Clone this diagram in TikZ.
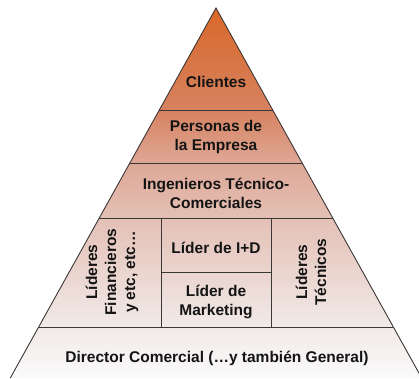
\documentclass[tikz,border=0pt]{standalone}
\usepackage{fontspec}
\setmainfont{Liberation Sans}
\definecolor{pyrB}{RGB}{250,250,250}
\definecolor{pyr1}{RGB}{241,234,232}
\definecolor{pyr2}{RGB}{228,192,182}
\definecolor{pyr25}{RGB}{222,168,150}
\definecolor{pyr3}{RGB}{214,130,96}
\definecolor{pyrT}{RGB}{217,104,40}
\definecolor{edge}{RGB}{60,55,55}
\pgfdeclareverticalshading{pyr}{100bp}{%
  color(0bp)=(pyrB);
  color(25bp)=(pyrB);
  color(31.9bp)=(pyr1);
  color(46.6bp)=(pyr2);
  color(54bp)=(pyr25);
  color(61.2bp)=(pyr3);
  color(75bp)=(pyrT);
  color(100bp)=(pyrT)}
\tikzset{
  lbl/.style={font=\fontsize{15.5}{19}\selectfont\bfseries, text=black!92, align=center, inner sep=0pt},
  sep/.style={draw=edge, line width=0.8pt}
}
\begin{document}
\begin{tikzpicture}[x=1pt,y=1pt]
\useasboundingbox (0,0) rectangle (419,378);
\clip (0,0) rectangle (419,378);
\coordinate (apex) at (216,370);
\coordinate (bl) at (10.3,0);
\coordinate (br) at (421.7,0);
\shade[shading=pyr] (bl) -- (apex) -- (br) -- cycle;
% horizontal separators
\coordinate (a1) at (159.3,268); \coordinate (a2) at (272.7,268);
\coordinate (b1) at (129.8,215); \coordinate (b2) at (302.2,215);
\coordinate (c1) at (99.2,160);  \coordinate (c2) at (332.8,160);
\coordinate (d1) at (38.6,51);   \coordinate (d2) at (393.4,51);
\coordinate (v1t) at (161,160); \coordinate (v1b) at (161,51);
\coordinate (v2t) at (271,160); \coordinate (v2b) at (271,51);
\coordinate (m1) at (161,106); \coordinate (m2) at (271,106);
\draw[sep] (a1) -- (a2);
\draw[sep] (b1) -- (b2);
\draw[sep] (c1) -- (c2);
\draw[sep] (d1) -- (d2);
\draw[sep] (v1t) -- (v1b);
\draw[sep] (v2t) -- (v2b);
\draw[sep] (m1) -- (m2);
\draw[draw=edge, line width=0.9pt] (bl) -- (apex) -- (br);
% labels
\node[lbl] (cli) at (216,296) {Clientes};
\node[lbl] (per) at (216,241) {Personas de\\la Empresa};
\node[lbl] (ing) at (216,185) {Ingenieros Técnico-\\Comerciales};
\node[lbl] (id) at (216,130) {Líder de I+D};
\node[lbl] (mkt) at (216,76) {Líder de\\Marketing};
\node[lbl, rotate=90] (fin) at (112,106) {Líderes\\Financieros\\y etc, etc…};
\node[lbl, rotate=90] (tec) at (311,106) {Líderes\\Técnicos};
\node[lbl] (dir) at (217,20) {Director Comercial (…y también General)};
\end{tikzpicture}
\end{document}
